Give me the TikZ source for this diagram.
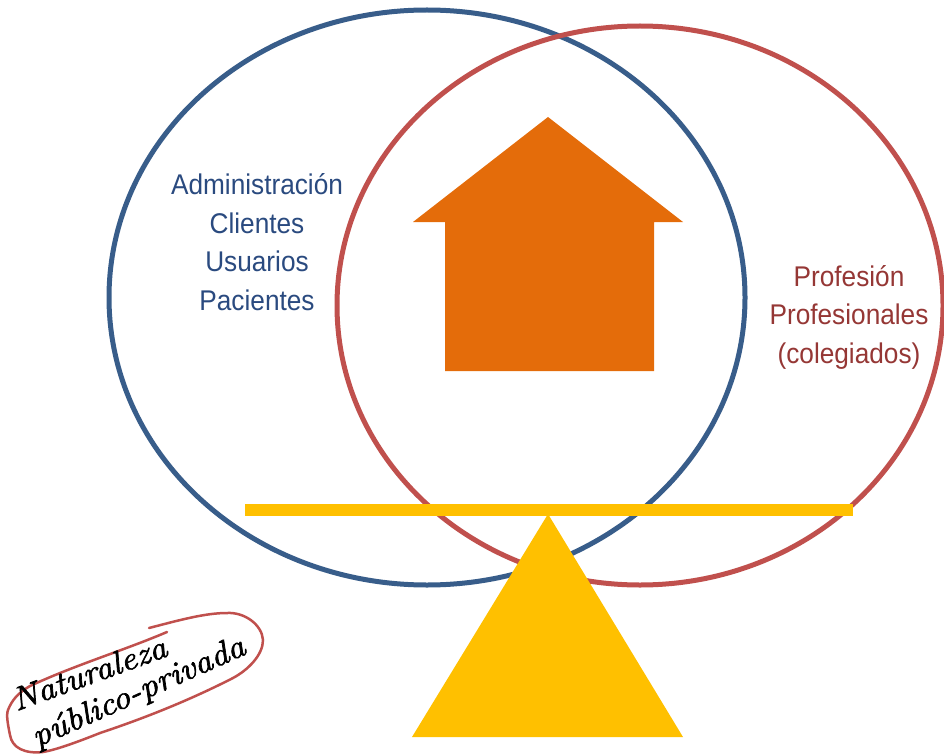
\documentclass[tikz,border=0pt]{standalone}
\usepackage{fontspec}
\setmainfont{Liberation Sans}[FakeStretch=0.92]
\newfontfamily\handfont{Latin Modern Roman}[FakeBold=2.2,FakeStretch=1.1]
\definecolor{ringblue}{HTML}{385D8A}
\definecolor{ringred}{HTML}{C0504D}
\definecolor{txtblue}{HTML}{2A4A7F}
\definecolor{txtred}{HTML}{953735}
\definecolor{housecol}{HTML}{E46C0A}
\definecolor{balancecol}{HTML}{FFC000}
\tikzset{
  ring/.style={line width=5pt,fill=none},
  bigtext/.style={font=\fontsize{28.5}{38.5}\selectfont,align=center,inner sep=0pt},
  hand/.style={font=\handfont\itshape\fontsize{32.5}{33}\selectfont,inner sep=0pt,text=black}
}
\begin{document}
\begin{tikzpicture}[x=1pt,y=-1pt]
\useasboundingbox (0,0) rectangle (944,754);
\draw[ring,ringblue] (427,297.5) ellipse [x radius=318,y radius=287.5];
\draw[ring,ringred] (640,305.5) ellipse [x radius=303,y radius=279.5];
\fill[housecol] (548,117) -- (683,222) -- (654,222) -- (654,371) -- (445,371) -- (445,222) -- (413,222) -- cycle;
\fill[balancecol] (245,503.5) rectangle (853,515.5);
\fill[balancecol] (548,514) -- (683,737) -- (412,737) -- cycle;
\node[bigtext,text=txtblue] (left) at (257,242) {Administración\\Clientes\\Usuarios\\Pacientes};
\node[bigtext,text=txtred] (right) at (849,317) {Profesión\\Profesionales\\(colegiados)};
\draw[ringred,line width=2.5pt,line cap=round]
  (149,628) .. controls (180,620) and (205,613) .. (227,613)
  .. controls (245,612) and (262,625) .. (263,640)
  .. controls (263,655) and (248,670) .. (233,678)
  .. controls (190,700) and (145,718) .. (100,733)
  .. controls (75,743) and (55,750) .. (43,752)
  .. controls (25,754) and (12,748) .. (10,735)
  .. controls (8,725) and (6,715) .. (8,710)
  .. controls (12,700) and (18,693) .. (30,686)
  .. controls (75,665) and (125,650) .. (167,632);
\node[hand,rotate=20] (nat) at (89,673) {Naturaleza};
\node[hand,rotate=24] (pub) at (139,693) {público-privada};
\end{tikzpicture}
\end{document}
